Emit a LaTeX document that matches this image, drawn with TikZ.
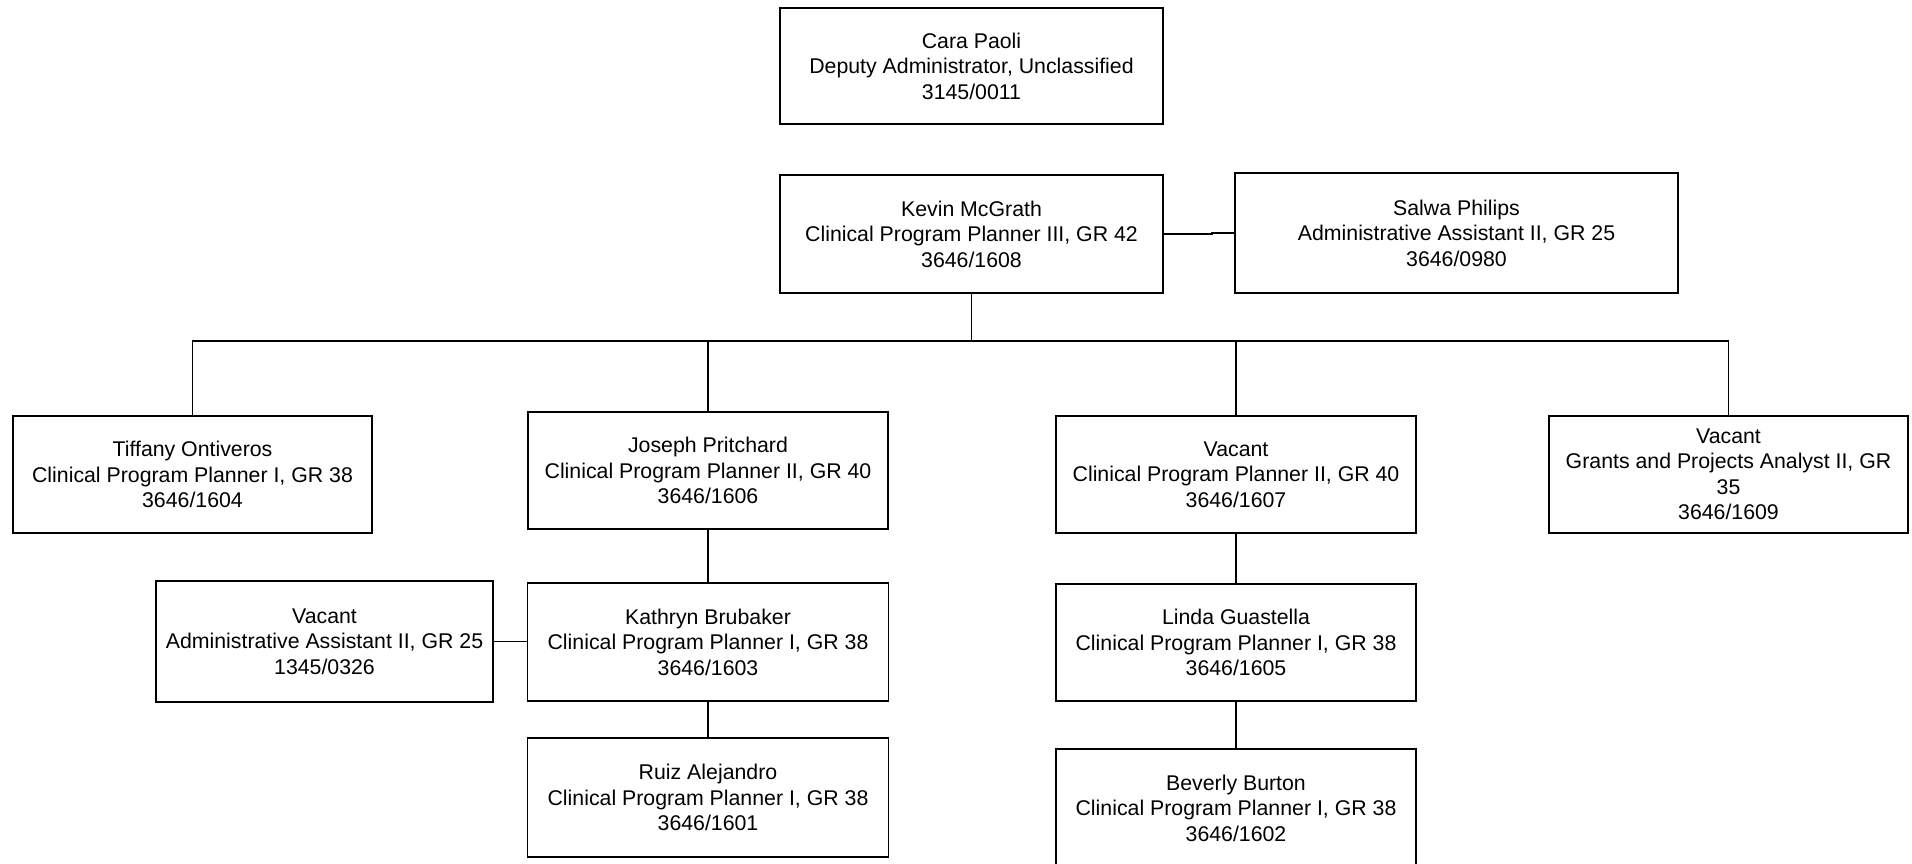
\documentclass[tikz,border=0pt]{standalone}
\usepackage{fontspec}
\setmainfont{Liberation Sans}
\begin{document}
\begin{tikzpicture}[x=1pt,y=-1pt,
  box/.style={draw=black, line width=1.9pt, rectangle, inner sep=0pt, align=center,
    font=\fontsize{21.3}{25.5}\selectfont},
  link/.style={draw=black, line width=1.7pt}]
\useasboundingbox (0,0) rectangle (1912,863);
\clip (0,0) rectangle (1912,863);
\fill[white] (0,0) rectangle (1912,863);
\node[box, minimum width=383pt, minimum height=116pt] (cara) at (971.5,66) {Cara Paoli\\Deputy Administrator, Unclassified\\3145/0011};
\node[box, minimum width=383pt, minimum height=118pt] (kevin) at (971.5,234) {Kevin McGrath\\Clinical Program Planner III, GR 42\\3646/1608};
\node[box, minimum width=443pt, minimum height=120pt] (salwa) at (1456.5,233) {Salwa Philips\\Administrative Assistant II, GR 25\\3646/0980};
\node[box, minimum width=359pt, minimum height=117pt] (tiffany) at (192.5,474.5) {Tiffany Ontiveros\\Clinical Program Planner I, GR 38\\3646/1604};
\node[box, minimum width=360pt, minimum height=117pt] (joseph) at (708,470.5) {Joseph Pritchard\\Clinical Program Planner II, GR 40\\3646/1606};
\node[box, minimum width=360pt, minimum height=117pt] (vacA) at (1236,474.5) {Vacant\\Clinical Program Planner II, GR 40\\3646/1607};
\node[box, minimum width=359pt, minimum height=117pt] (vacB) at (1728.5,474.5) {Vacant\\Grants and Projects Analyst II, GR\\35\\3646/1609};
\node[box, minimum width=337pt, minimum height=121pt] (vacadm) at (324.5,641.5) {Vacant\\Administrative Assistant II, GR 25\\1345/0326};
\node[box, minimum width=361pt, minimum height=118pt] (kathryn) at (708,642) {Kathryn Brubaker\\Clinical Program Planner I, GR 38\\3646/1603};
\node[box, minimum width=361pt, minimum height=119pt] (ruiz) at (708,797.5) {Ruiz Alejandro\\Clinical Program Planner I, GR 38\\3646/1601};
\node[box, minimum width=360pt, minimum height=117pt] (linda) at (1236,642.5) {Linda Guastella\\Clinical Program Planner I, GR 38\\3646/1605};
\node[box, minimum width=360pt, minimum height=118pt] (beverly) at (1236,808) {Beverly Burton\\Clinical Program Planner I, GR 38\\3646/1602};
\coordinate (bus) at (0,341);
\coordinate (step) at (1212,0);
\draw[link] (kevin.east) -- (kevin.east -| step) |- (salwa.west);
\foreach \c in {tiffany,joseph,vacA,vacB}
  \draw[link] (kevin.south) -- (kevin.south |- bus) -| (\c.north);
\draw[link] (joseph.south) -- (kathryn.north);
\draw[link] (kathryn.south) -- (ruiz.north);
\draw[link] (vacadm.east) -- (vacadm.east -| kathryn.west);
\draw[link] (vacA.south) -- (linda.north);
\draw[link] (linda.south) -- (beverly.north);
\end{tikzpicture}
\end{document}
